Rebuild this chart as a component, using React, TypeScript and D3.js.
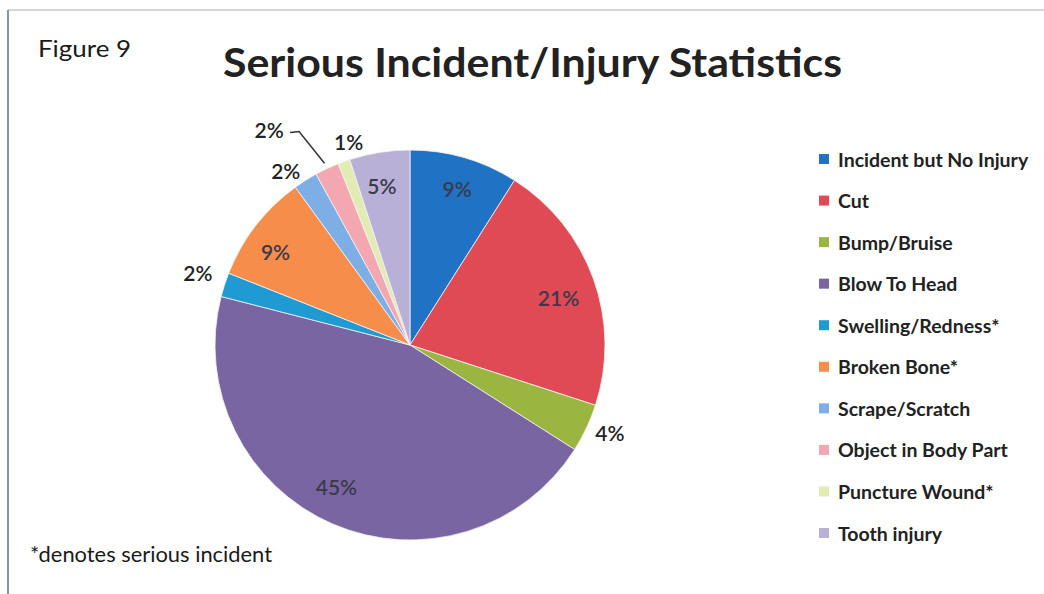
import React from "react";
import * as d3 from "d3";

const categories = [
  "Incident but No Injury",
  "Cut",
  "Bump/Bruise",
  "Blow To Head",
  "Swelling/Redness*",
  "Broken Bone*",
  "Scrape/Scratch",
  "Object in Body Part",
  "Puncture Wound*",
  "Tooth injury",
];
const values = [9, 21, 4, 45, 2, 9, 2, 2, 1, 5];
const colors = [
  "#1f72c4",
  "#e04a55",
  "#9bb640",
  "#7a65a3",
  "#1f9ad3",
  "#f78d4a",
  "#7eaee6",
  "#f3a7b0",
  "#e3ebb5",
  "#b9b0d8",
];
// label placement: radius factor and angular shift (deg)
const labelRadius = [0.84, 0.8, 1.12, 0.82, 1.15, 0.84, 1.1, 1.32, 1.09, 0.83];
const labelShift = [0.5, 2, -1.5, 4, 1, -3, -3, -8, 3, -1];
const labelInside = [true, true, false, true, false, true, false, false, false, true];

const W = 1044;
const H = 594;
const cx = 410;
const cy = 345;
const R = 195;
const FONT = "Lato, 'Open Sans', sans-serif";

export default function App() {
  const pie = d3.pie<number>().sort(null).value((d) => d)(values);
  const arc = d3.arc<d3.PieArcDatum<number>>().innerRadius(0).outerRadius(R);
  const total = d3.sum(values);

  const legendY = d3.scaleLinear().domain([0, categories.length - 1]).range([159, 533]);

  const labelPos = pie.map((p, i) => {
    const mid = (p.startAngle + p.endAngle) / 2 + (labelShift[i] * Math.PI) / 180;
    const r = R * labelRadius[i];
    return [Math.sin(mid) * r, -Math.cos(mid) * r];
  });

  // leader line for the "Object in Body Part" label
  const objIdx = 7;
  const objMid = (pie[objIdx].startAngle + pie[objIdx].endAngle) / 2;
  const lp = labelPos[objIdx];
  const edge = [Math.sin(objMid) * R * 1.03, -Math.cos(objMid) * R * 1.03];
  const leader = d3.line()([
    [lp[0] + 21, lp[1] + 3],
    [lp[0] + 30, lp[1] + 2],
    edge as [number, number],
  ]);

  return (
    <svg width={W} height={H} style={{ position: "absolute", left: 0, top: 0 }}>
      <rect x={0} y={0} width={W} height={H} fill="#fff" />
      <line x1={8} y1={10} x2={W} y2={10} stroke="#c4c8cc" strokeWidth={1.5} />
      <line x1={8} y1={10} x2={8} y2={H} stroke="#7f98a8" strokeWidth={2} />

      <text
        x={38}
        y={57}
        fontFamily={FONT}
        fontSize={24}
        fill="#1a1a1a"
        textLength={93}
        lengthAdjust="spacingAndGlyphs"
      >
        Figure 9
      </text>
      <text
        x={223}
        y={77}
        fontFamily={FONT}
        fontSize={41}
        fontWeight={700}
        fill="#222"
        textLength={619}
        lengthAdjust="spacingAndGlyphs"
      >
        Serious Incident/Injury Statistics
      </text>

      <g transform={`translate(${cx},${cy})`}>
        {pie.map((p, i) => (
          <path key={i} d={arc(p) || ""} fill={colors[i]} stroke="#f4f4f4" strokeWidth={0.8} />
        ))}
        <path d={leader || ""} fill="none" stroke="#333" strokeWidth={1.5} />
        {pie.map((p, i) => (
          <text
            key={i}
            x={labelPos[i][0]}
            y={labelPos[i][1]}
            textAnchor="middle"
            dominantBaseline="central"
            fontFamily={FONT}
            fontSize={21}
            fontWeight={600}
            fill={labelInside[i] ? "#3a3a4a" : "#222"}
          >
            {`${Math.round((values[i] / total) * 100)}%`}
          </text>
        ))}
      </g>

      {categories.map((c, i) => (
        <g key={c} transform={`translate(0,${legendY(i)})`}>
          <rect x={819} y={-5} width={10} height={10} fill={colors[i]} />
          <text
            x={838}
            y={0}
            dominantBaseline="central"
            fontFamily={FONT}
            fontSize={19.5}
            fontWeight={700}
            fill="#222"
          >
            {c}
          </text>
        </g>
      ))}

      <text
        x={30}
        y={562}
        fontFamily={FONT}
        fontSize={21.5}
        fill="#1a1a1a"
        textLength={242}
        lengthAdjust="spacingAndGlyphs"
      >
        *denotes serious incident
      </text>
    </svg>
  );
}
